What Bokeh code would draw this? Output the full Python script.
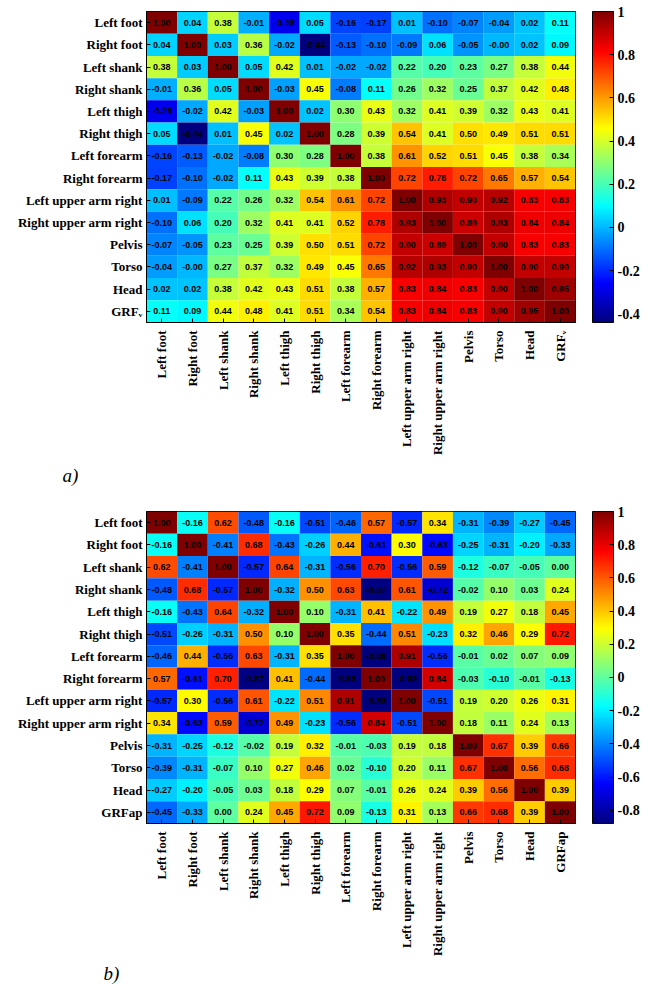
import math

from bokeh.plotting import figure
from bokeh.models import (ColumnDataSource, LinearColorMapper, ColorBar,
                          FixedTicker, Title)
from bokeh.layouts import column
from bokeh.embed import file_html
from bokeh.resources import INLINE

# -----------------------------
# Data
# -----------------------------
labels_a = ["Left foot", "Right foot", "Left shank", "Right shank", "Left thigh",
            "Right thigh", "Left forearm", "Right forearm", "Left upper arm right",
            "Right upper arm right", "Pelvis", "Torso", "Head", "GRF\u1d65"]
labels_b = labels_a[:-1] + ["GRFap"]

corr_a = [
    [1.00, 0.04, 0.38, -0.01, -0.28, 0.05, -0.16, -0.17, 0.01, -0.10, -0.07, -0.04, 0.02, 0.11],
    [0.04, 1.00, 0.03, 0.36, -0.02, -0.44, -0.13, -0.10, -0.09, 0.06, -0.05, -0.0, 0.02, 0.09],
    [0.38, 0.03, 1.00, 0.05, 0.42, 0.01, -0.02, -0.02, 0.22, 0.20, 0.23, 0.27, 0.38, 0.44],
    [-0.01, 0.36, 0.05, 1.00, -0.03, 0.45, -0.08, 0.11, 0.26, 0.32, 0.25, 0.37, 0.42, 0.48],
    [-0.28, -0.02, 0.42, -0.03, 1.00, 0.02, 0.30, 0.43, 0.32, 0.41, 0.39, 0.32, 0.43, 0.41],
    [0.05, -0.44, 0.01, 0.45, 0.02, 1.00, 0.28, 0.39, 0.54, 0.41, 0.50, 0.49, 0.51, 0.51],
    [-0.16, -0.13, -0.02, -0.08, 0.30, 0.28, 1.00, 0.38, 0.61, 0.52, 0.51, 0.45, 0.38, 0.34],
    [-0.17, -0.10, -0.02, 0.11, 0.43, 0.39, 0.38, 1.00, 0.72, 0.78, 0.72, 0.65, 0.57, 0.54],
    [0.01, -0.09, 0.22, 0.26, 0.32, 0.54, 0.61, 0.72, 1.00, 0.93, 0.90, 0.92, 0.83, 0.83],
    [-0.10, 0.06, 0.20, 0.32, 0.41, 0.41, 0.52, 0.78, 0.93, 1.00, 0.89, 0.93, 0.84, 0.84],
    [-0.07, -0.05, 0.23, 0.25, 0.39, 0.50, 0.51, 0.72, 0.90, 0.89, 1.00, 0.90, 0.83, 0.83],
    [-0.04, -0.0, 0.27, 0.37, 0.32, 0.49, 0.45, 0.65, 0.92, 0.93, 0.90, 1.00, 0.90, 0.90],
    [0.02, 0.02, 0.38, 0.42, 0.43, 0.51, 0.38, 0.57, 0.83, 0.84, 0.83, 0.90, 1.00, 0.95],
    [0.11, 0.09, 0.44, 0.48, 0.41, 0.51, 0.34, 0.54, 0.83, 0.84, 0.83, 0.90, 0.95, 1.00],
]

corr_b = [
    [1.00, -0.16, 0.62, -0.48, -0.16, -0.51, -0.46, 0.57, -0.57, 0.34, -0.31, -0.39, -0.27, -0.45],
    [-0.16, 1.00, -0.41, 0.68, -0.43, -0.26, 0.44, -0.61, 0.30, -0.63, -0.25, -0.31, -0.20, -0.33],
    [0.62, -0.41, 1.00, -0.57, 0.64, -0.31, -0.56, 0.70, -0.56, 0.59, -0.12, -0.07, -0.05, 0.00],
    [-0.48, 0.68, -0.57, 1.00, -0.32, 0.50, 0.63, -0.87, 0.61, -0.72, -0.02, 0.10, 0.03, 0.24],
    [-0.16, -0.43, 0.64, -0.32, 1.00, 0.10, -0.31, 0.41, -0.22, 0.49, 0.19, 0.27, 0.18, 0.45],
    [-0.51, -0.26, -0.31, 0.50, 0.10, 1.00, 0.35, -0.44, 0.51, -0.23, 0.32, 0.46, 0.29, 0.72],
    [-0.46, 0.44, -0.56, 0.63, -0.31, 0.35, 1.00, -0.88, 0.91, -0.56, -0.01, 0.02, 0.07, 0.09],
    [0.57, -0.61, 0.70, -0.87, 0.41, -0.44, -0.88, 1.00, -0.88, 0.84, -0.03, -0.10, -0.01, -0.13],
    [-0.57, 0.30, -0.56, 0.61, -0.22, 0.51, 0.91, -0.88, 1.00, -0.51, 0.19, 0.20, 0.26, 0.31],
    [0.34, -0.63, 0.59, -0.72, 0.49, -0.23, -0.56, 0.84, -0.51, 1.00, 0.18, 0.11, 0.24, 0.13],
    [-0.31, -0.25, -0.12, -0.02, 0.19, 0.32, -0.01, -0.03, 0.19, 0.18, 1.00, 0.67, 0.39, 0.66],
    [-0.39, -0.31, -0.07, 0.10, 0.27, 0.46, 0.02, -0.10, 0.20, 0.11, 0.67, 1.00, 0.56, 0.68],
    [-0.27, -0.20, -0.05, 0.03, 0.18, 0.29, 0.07, -0.01, 0.26, 0.24, 0.39, 0.56, 1.00, 0.39],
    [-0.45, -0.33, 0.00, 0.24, 0.45, 0.72, 0.09, -0.13, 0.31, 0.13, 0.66, 0.68, 0.39, 1.00],
]

ticks_a = [-0.4, -0.2, 0, 0.2, 0.4, 0.6, 0.8, 1]
ticks_b = [-0.8, -0.6, -0.4, -0.2, 0, 0.2, 0.4, 0.6, 0.8, 1]


def jet(n=256):
    # MATLAB-like jet colormap
    out = []
    for i in range(n):
        t = i / (n - 1)
        r = min(max(1.5 - abs(4 * t - 3), 0), 1)
        g = min(max(1.5 - abs(4 * t - 2), 0), 1)
        b = min(max(1.5 - abs(4 * t - 1), 0), 1)
        out.append("#%02x%02x%02x" % (int(r * 255), int(g * 255), int(b * 255)))
    return out


def heatmap(labels, corr, ticks, tag, height, top, bottom, tag_offset, tag_standoff):
    xs, ys, vals, txt = [], [], [], []
    for i, row in enumerate(corr):
        for j, v in enumerate(row):
            xs.append(labels[j])
            ys.append(labels[i])
            vals.append(v)
            txt.append("%.2f" % v)
    src = ColumnDataSource(dict(x=xs, y=ys, v=vals, t=txt))

    mapper = LinearColorMapper(palette=jet(), low=min(vals), high=1.0)

    p = figure(
        x_range=labels,
        y_range=list(reversed(labels)),
        width=650, height=height,
        output_backend="svg", toolbar_location=None,
        min_border_left=146, min_border_top=top, min_border_bottom=bottom,
        min_border_right=75,
    )
    p.rect("x", "y", width=1, height=1, source=src,
           fill_color={"field": "v", "transform": mapper}, line_color=None)
    p.text("x", "y", text="t", source=src, text_align="center",
           text_baseline="middle", text_font_size="9px",
           text_font_style="bold", text_color="black",
           text_font={"value": "Liberation Sans"})

    p.grid.visible = False
    p.outline_line_color = "black"
    for ax in (p.xaxis, p.yaxis):
        ax.axis_line_color = "black"
        ax.major_tick_in = 4
        ax.major_tick_out = 0
        ax.major_tick_line_color = "black"
        ax.major_label_text_font = "Liberation Serif"
        ax.major_label_text_font_style = "bold"
        ax.major_label_text_font_size = "13px"
        ax.major_label_text_color = "black"
        ax.major_label_standoff = 4
    p.xaxis.major_label_orientation = math.pi / 2
    p.xaxis.major_label_standoff = 8

    cb = ColorBar(
        color_mapper=mapper, ticker=FixedTicker(ticks=ticks),
        major_label_overrides={t: ("%g" % t) for t in ticks},
        width=21, padding=0, margin=0, location=(17, 0),
        bar_line_color="black", major_tick_line_color="black",
        major_tick_in=4, major_tick_out=0, label_standoff=4,
        major_label_text_font="Liberation Serif",
        major_label_text_font_style="bold",
        major_label_text_font_size="14px",
        major_label_text_color="black",
    )
    p.add_layout(cb, "right")

    p.add_layout(Title(text=tag, align="left", offset=tag_offset,
                       standoff=tag_standoff, text_font="Liberation Serif",
                       text_font_style="italic", text_font_size="19px",
                       text_color="black"), "below")
    return p


p_a = heatmap(labels_a, corr_a, ticks_a, "a)", 503, 11, 181, -84, 8)
p_b = heatmap(labels_b, corr_b, ticks_b, "b)", 485, 8, 165, -43, 3)

p = column(p_a, p_b, spacing=0)

open("out.html", "w").write(file_html(p, INLINE))
